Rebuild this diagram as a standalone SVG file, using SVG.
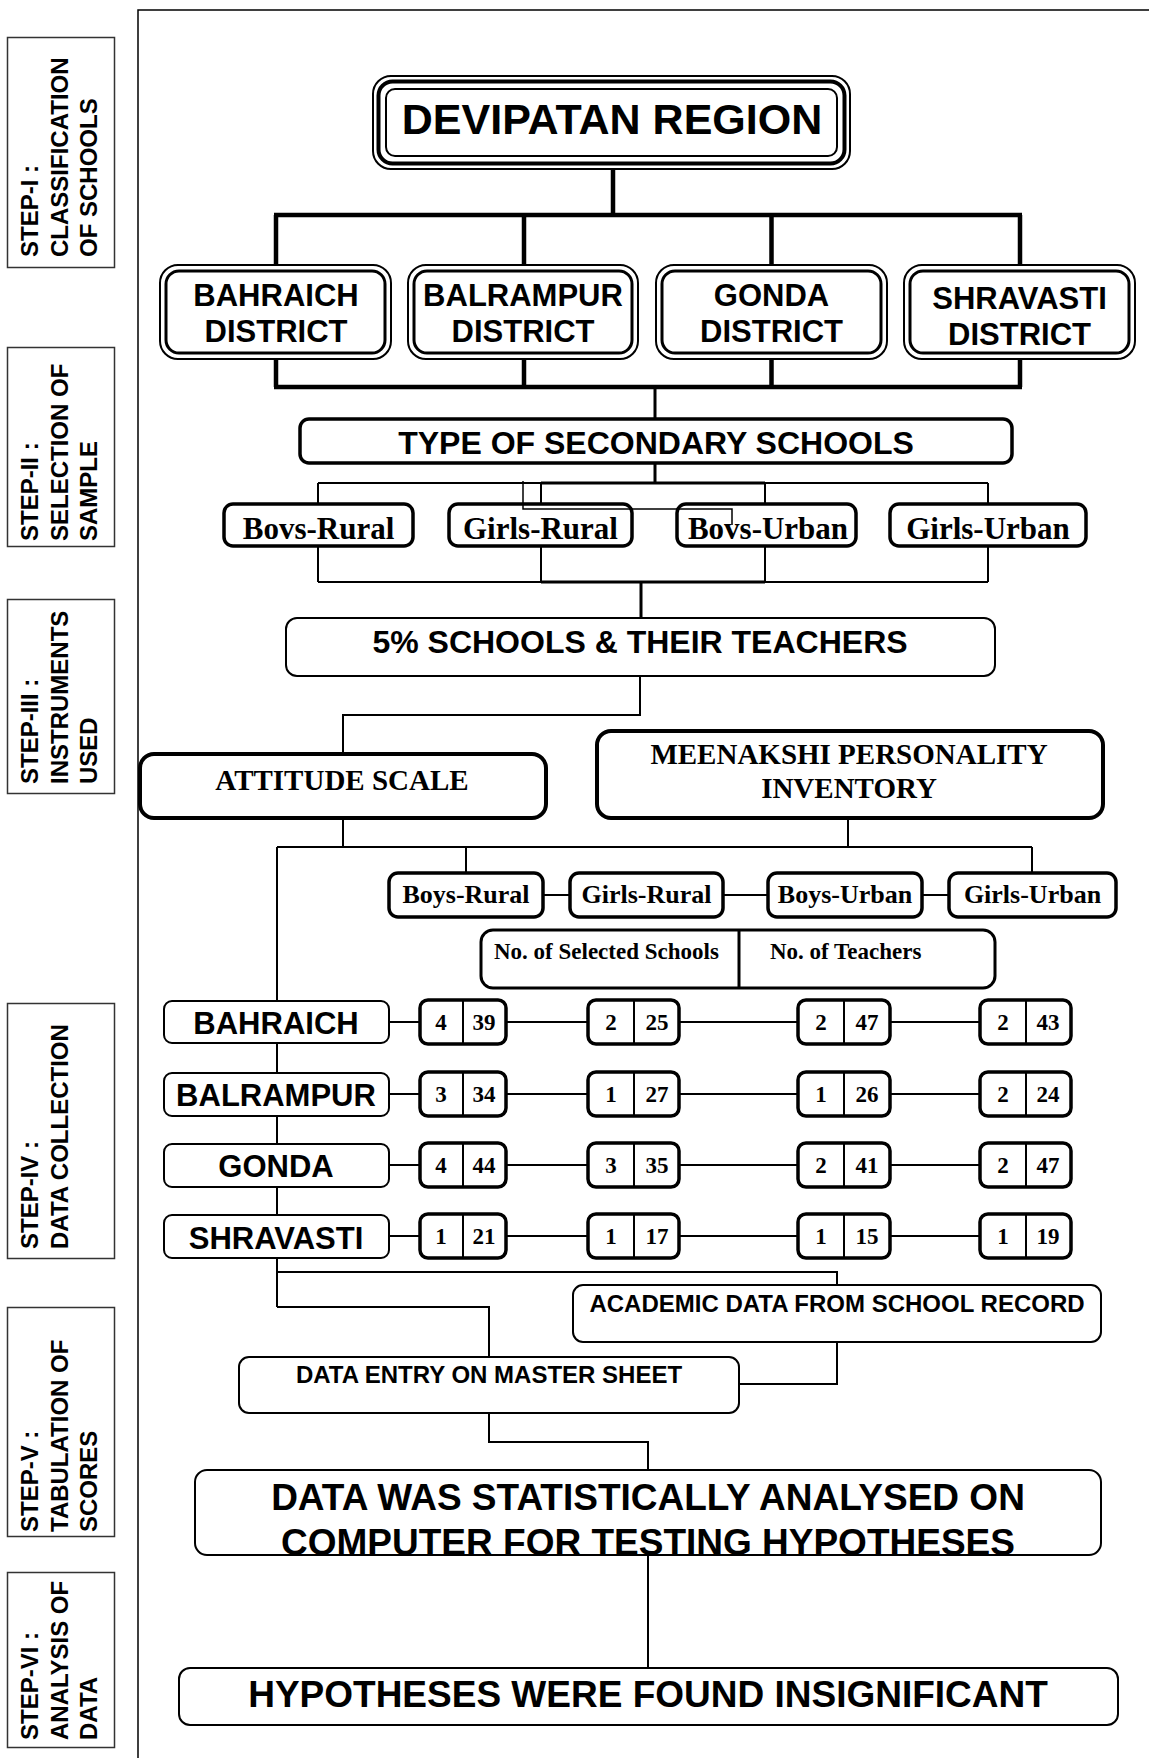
<svg xmlns="http://www.w3.org/2000/svg" width="1149" height="1758" viewBox="0 0 1149 1758">
<style>
.bg{fill:#fff}
.sb{fill:#fff;stroke:#333;stroke-width:1.5}
.st{font-family:"Liberation Sans",Arial,sans-serif;font-weight:bold;font-size:24px;fill:#000}
.sans{font-family:"Liberation Sans",Arial,sans-serif;font-weight:bold;fill:#000;text-anchor:middle}
.serif{font-family:"Liberation Serif","Times New Roman",serif;font-weight:bold;fill:#000;text-anchor:middle}
.b1{fill:#fff;stroke:#000;stroke-width:2}
.b3{fill:#fff;stroke:#000;stroke-width:3.5}
.ln{fill:none;stroke:#000;stroke-width:2}
.lt{fill:none;stroke:#000;stroke-width:1.5}
.lk{fill:none;stroke:#000;stroke-width:4.5}
.lm{fill:none;stroke:#000;stroke-width:3}
.num{font-family:"Liberation Serif","Times New Roman",serif;font-weight:bold;font-size:23px;fill:#000;text-anchor:middle}
</style>
<defs>
<clipPath id="anClip"><rect x="195" y="1470" width="906" height="85"/></clipPath>
</defs>
<rect class="bg" x="0" y="0" width="1149" height="1758"/>
<path class="lt" d="M1149,10 H138 V1758"/>

<g id="steps">
<g id="step1"><rect class="sb" x="7.5" y="37.5" width="107" height="230"/>
<text class="st" transform="translate(38,257) rotate(-90)">STEP-I :</text>
<text class="st" transform="translate(68,257) rotate(-90)">CLASSIFICATION</text>
<text class="st" transform="translate(97,257) rotate(-90)">OF SCHOOLS</text></g>
<g id="step2"><rect class="sb" x="7.5" y="347.5" width="107" height="199"/>
<text class="st" transform="translate(38,541) rotate(-90)">STEP-II :</text>
<text class="st" transform="translate(68,541) rotate(-90)">SELECTION OF</text>
<text class="st" transform="translate(97,541) rotate(-90)">SAMPLE</text></g>
<g id="step3"><rect class="sb" x="7.5" y="599.5" width="107" height="194"/>
<text class="st" transform="translate(38,784) rotate(-90)">STEP-III :</text>
<text class="st" transform="translate(68,784) rotate(-90)">INSTRUMENTS</text>
<text class="st" transform="translate(97,784) rotate(-90)">USED</text></g>
<g id="step4"><rect class="sb" x="7.5" y="1003.5" width="107" height="255"/>
<text class="st" transform="translate(38,1249) rotate(-90)">STEP-IV :</text>
<text class="st" transform="translate(68,1249) rotate(-90)">DATA COLLECTION</text></g>
<g id="step5"><rect class="sb" x="7.5" y="1307.5" width="107" height="229"/>
<text class="st" transform="translate(38,1532) rotate(-90)">STEP-V :</text>
<text class="st" transform="translate(68,1532) rotate(-90)">TABULATION OF</text>
<text class="st" transform="translate(97,1532) rotate(-90)">SCORES</text></g>
<g id="step6"><rect class="sb" x="7.5" y="1572.5" width="107" height="175"/>
<text class="st" transform="translate(38,1740) rotate(-90)">STEP-VI :</text>
<text class="st" transform="translate(68,1740) rotate(-90)">ANALYSIS OF</text>
<text class="st" transform="translate(97,1740) rotate(-90)">DATA</text></g>
</g>

<g id="connectors">
<path class="lk" d="M613,169 V215 M274,215 H1022 M276,215 V265 M524,215 V265 M771.5,215 V265 M1020,215 V265"/>
<path class="lk" d="M276,359 V387 M524,359 V387 M771.5,359 V387 M1020,359 V387 M274,387 H1022"/>
<path class="lm" d="M655,387 V419 M655,463 V483"/>
<path class="ln" d="M318,483 H988 M318,483 V504 M541,483 V504 M765,483 V504 M988,483 V504"/>
<path class="lm" d="M541,483 H765"/>
<path class="ln" d="M318,546 V582 M541,546 V582 M765,546 V582 M988,546 V582 M318,582 H988"/>
<path class="lm" d="M541,582 H765 M641,582 V618"/>
<path class="ln" d="M640,676 V715 H343 V754"/>
<path class="ln" d="M343,818 V847 M848,818 V847 M277,847 H1032 M466,847 V873 M1032,847 V873 M277,847 V1307"/>
<path class="ln" d="M543,895 H570 M723,895 H768 M922,895 H949"/>
<path class="ln" d="M389,1022 H420 M506,1022 H588 M679,1022 H798 M890,1022 H980"/>
<path class="ln" d="M389,1094 H420 M506,1094 H588 M679,1094 H798 M890,1094 H980"/>
<path class="ln" d="M389,1165 H420 M506,1165 H588 M679,1165 H798 M890,1165 H980"/>
<path class="ln" d="M389,1236 H420 M506,1236 H588 M679,1236 H798 M890,1236 H980"/>
<path class="ln" d="M277,1272 H837 V1285 M277,1307 H489 V1357"/>
<path class="ln" d="M837,1342 V1384 H739 M489,1413 V1442 H648 V1470 M648,1555 V1668"/>
</g>

<g id="devipatan">
<rect fill="#fff" stroke="#000" stroke-width="2" x="373" y="76" width="477" height="93" rx="18"/>
<rect fill="none" stroke="#000" stroke-width="4" x="378.5" y="81.5" width="466" height="82" rx="14"/>
<rect fill="none" stroke="#000" stroke-width="2" x="386" y="89" width="451" height="67" rx="9"/>
<text class="sans" x="612" y="134" font-size="43">DEVIPATAN REGION</text>
</g>

<g id="bahraich-district">
<rect fill="#fff" stroke="#000" stroke-width="2" x="160" y="265" width="231" height="94" rx="18"/>
<rect fill="none" stroke="#000" stroke-width="3" x="166" y="271" width="219" height="82" rx="13"/>
<text class="sans" x="276" y="306" font-size="31">BAHRAICH</text>
<text class="sans" x="276" y="342" font-size="31">DISTRICT</text>
</g>
<g id="balrampur-district">
<rect fill="#fff" stroke="#000" stroke-width="2" x="408" y="265" width="230" height="94" rx="18"/>
<rect fill="none" stroke="#000" stroke-width="3" x="414" y="271" width="218" height="82" rx="13"/>
<text class="sans" x="523" y="306" font-size="31">BALRAMPUR</text>
<text class="sans" x="523" y="342" font-size="31">DISTRICT</text>
</g>
<g id="gonda-district">
<rect fill="#fff" stroke="#000" stroke-width="2" x="656" y="265" width="231" height="94" rx="18"/>
<rect fill="none" stroke="#000" stroke-width="3" x="662" y="271" width="219" height="82" rx="13"/>
<text class="sans" x="771.5" y="306" font-size="31">GONDA</text>
<text class="sans" x="771.5" y="342" font-size="31">DISTRICT</text>
</g>
<g id="shravasti-district">
<rect fill="#fff" stroke="#000" stroke-width="2" x="904" y="265" width="231" height="94" rx="18"/>
<rect fill="none" stroke="#000" stroke-width="3" x="910" y="271" width="219" height="82" rx="13"/>
<text class="sans" x="1019.5" y="309" font-size="31">SHRAVASTI</text>
<text class="sans" x="1019.5" y="345" font-size="31">DISTRICT</text>
</g>

<g id="type-schools">
<rect class="b3" x="300" y="419" width="712" height="44" rx="9"/>
<text class="sans" x="656" y="454" font-size="32">TYPE OF SECONDARY SCHOOLS</text>
</g>
<g id="t-bovs-rural"><rect class="b3" x="224" y="504" width="189" height="42" rx="9"/><text class="serif" x="318.5" y="539" font-size="31">Bovs-Rural</text></g>
<g id="t-girls-rural"><rect class="b3" x="449" y="504" width="183" height="42" rx="9"/><text class="serif" x="540.5" y="539" font-size="31">Girls-Rural</text></g>
<g id="t-bovs-urban"><rect class="b3" x="677" y="504" width="179" height="42" rx="9"/><text class="serif" x="768" y="539" font-size="31">Bovs-Urban</text></g>
<g id="t-girls-urban"><rect class="b3" x="890" y="504" width="196" height="42" rx="9"/><text class="serif" x="988" y="539" font-size="31">Girls-Urban</text></g>
<path class="lt" d="M523,481 V509 H732 V525"/>

<g id="five-percent">
<rect class="b1" x="286" y="618" width="709" height="58" rx="11"/>
<text class="sans" x="640" y="653" font-size="32">5% SCHOOLS &amp; THEIR TEACHERS</text>
</g>
<g id="attitude">
<rect fill="#fff" stroke="#000" stroke-width="4" x="140" y="754" width="406" height="64" rx="14"/>
<text class="serif" x="342" y="790" font-size="29">ATTITUDE SCALE</text>
</g>
<g id="meenakshi">
<rect fill="#fff" stroke="#000" stroke-width="4" x="597" y="731" width="506" height="87" rx="14"/>
<text class="serif" x="849" y="764" font-size="29">MEENAKSHI PERSONALITY</text>
<text class="serif" x="849" y="798" font-size="29">INVENTORY</text>
</g>

<g id="r-boys-rural"><rect class="b3" x="389" y="873" width="154" height="44" rx="9"/><text class="serif" x="466" y="903" font-size="26">Boys-Rural</text></g>
<g id="r-girls-rural"><rect class="b3" x="570" y="873" width="153" height="44" rx="9"/><text class="serif" x="646.5" y="903" font-size="26">Girls-Rural</text></g>
<g id="r-boys-urban"><rect class="b3" x="768" y="873" width="154" height="44" rx="9"/><text class="serif" x="845" y="903" font-size="26">Boys-Urban</text></g>
<g id="r-girls-urban"><rect class="b3" x="949" y="873" width="167" height="44" rx="9"/><text class="serif" x="1032.5" y="903" font-size="26">Girls-Urban</text></g>

<g id="legend">
<rect fill="#fff" stroke="#000" stroke-width="3" x="481" y="930" width="514" height="58" rx="12"/>
<path class="lm" d="M739,930 V988"/>
<text class="serif" x="494" y="959" font-size="23" style="text-anchor:start">No. of Selected Schools</text>
<text class="serif" x="770" y="959" font-size="23" style="text-anchor:start">No. of Teachers</text>
</g>

<g id="d-bahraich"><rect class="b1" x="164" y="1001" width="225" height="42" rx="8"/><text class="sans" x="276" y="1034" font-size="31">BAHRAICH</text></g>
<g id="d-balrampur"><rect class="b1" x="164" y="1073" width="225" height="43" rx="8"/><text class="sans" x="276" y="1106" font-size="31">BALRAMPUR</text></g>
<g id="d-gonda"><rect class="b1" x="164" y="1144" width="225" height="43" rx="8"/><text class="sans" x="276" y="1177" font-size="31">GONDA</text></g>
<g id="d-shravasti"><rect class="b1" x="164" y="1215" width="225" height="43" rx="8"/><text class="sans" x="276" y="1249" font-size="31">SHRAVASTI</text></g>

<g id="nums-bahraich">
<g><rect class="b3" x="420" y="1000" width="86" height="44" rx="8"/><path class="ln" d="M463,1000 V1044"/><text class="num" x="441" y="1030">4</text><text class="num" x="484" y="1030">39</text></g>
<g><rect class="b3" x="588" y="1000" width="91" height="44" rx="8"/><path class="ln" d="M634,1000 V1044"/><text class="num" x="611" y="1030">2</text><text class="num" x="657" y="1030">25</text></g>
<g><rect class="b3" x="798" y="1000" width="92" height="44" rx="8"/><path class="ln" d="M844,1000 V1044"/><text class="num" x="821" y="1030">2</text><text class="num" x="867" y="1030">47</text></g>
<g><rect class="b3" x="980" y="1000" width="91" height="44" rx="8"/><path class="ln" d="M1026,1000 V1044"/><text class="num" x="1003" y="1030">2</text><text class="num" x="1048" y="1030">43</text></g>
</g>
<g id="nums-balrampur">
<g><rect class="b3" x="420" y="1072" width="86" height="44" rx="8"/><path class="ln" d="M463,1072 V1116"/><text class="num" x="441" y="1102">3</text><text class="num" x="484" y="1102">34</text></g>
<g><rect class="b3" x="588" y="1072" width="91" height="44" rx="8"/><path class="ln" d="M634,1072 V1116"/><text class="num" x="611" y="1102">1</text><text class="num" x="657" y="1102">27</text></g>
<g><rect class="b3" x="798" y="1072" width="92" height="44" rx="8"/><path class="ln" d="M844,1072 V1116"/><text class="num" x="821" y="1102">1</text><text class="num" x="867" y="1102">26</text></g>
<g><rect class="b3" x="980" y="1072" width="91" height="44" rx="8"/><path class="ln" d="M1026,1072 V1116"/><text class="num" x="1003" y="1102">2</text><text class="num" x="1048" y="1102">24</text></g>
</g>
<g id="nums-gonda">
<g><rect class="b3" x="420" y="1143" width="86" height="44" rx="8"/><path class="ln" d="M463,1143 V1187"/><text class="num" x="441" y="1173">4</text><text class="num" x="484" y="1173">44</text></g>
<g><rect class="b3" x="588" y="1143" width="91" height="44" rx="8"/><path class="ln" d="M634,1143 V1187"/><text class="num" x="611" y="1173">3</text><text class="num" x="657" y="1173">35</text></g>
<g><rect class="b3" x="798" y="1143" width="92" height="44" rx="8"/><path class="ln" d="M844,1143 V1187"/><text class="num" x="821" y="1173">2</text><text class="num" x="867" y="1173">41</text></g>
<g><rect class="b3" x="980" y="1143" width="91" height="44" rx="8"/><path class="ln" d="M1026,1143 V1187"/><text class="num" x="1003" y="1173">2</text><text class="num" x="1048" y="1173">47</text></g>
</g>
<g id="nums-shravasti">
<g><rect class="b3" x="420" y="1214" width="86" height="44" rx="8"/><path class="ln" d="M463,1214 V1258"/><text class="num" x="441" y="1244">1</text><text class="num" x="484" y="1244">21</text></g>
<g><rect class="b3" x="588" y="1214" width="91" height="44" rx="8"/><path class="ln" d="M634,1214 V1258"/><text class="num" x="611" y="1244">1</text><text class="num" x="657" y="1244">17</text></g>
<g><rect class="b3" x="798" y="1214" width="92" height="44" rx="8"/><path class="ln" d="M844,1214 V1258"/><text class="num" x="821" y="1244">1</text><text class="num" x="867" y="1244">15</text></g>
<g><rect class="b3" x="980" y="1214" width="91" height="44" rx="8"/><path class="ln" d="M1026,1214 V1258"/><text class="num" x="1003" y="1244">1</text><text class="num" x="1048" y="1244">19</text></g>
</g>

<g id="academic">
<rect class="b1" x="573" y="1285" width="528" height="57" rx="10"/>
<text class="sans" x="837" y="1312" font-size="24">ACADEMIC DATA FROM SCHOOL RECORD</text>
</g>
<g id="data-entry">
<rect class="b1" x="239" y="1357" width="500" height="56" rx="10"/>
<text class="sans" x="489" y="1383" font-size="24">DATA ENTRY ON MASTER SHEET</text>
</g>
<g id="analysed">
<rect fill="#fff" x="195" y="1470" width="906" height="85" rx="12"/>
<g clip-path="url(#anClip)">
<text class="sans" x="648" y="1510" font-size="37">DATA WAS STATISTICALLY ANALYSED ON</text>
<text class="sans" x="648" y="1555" font-size="37">COMPUTER FOR TESTING HYPOTHESES</text>
</g>
<rect fill="none" stroke="#000" stroke-width="2" x="195" y="1470" width="906" height="85" rx="12"/>
</g>
<g id="insignificant">
<rect class="b1" x="179" y="1668" width="939" height="57" rx="11"/>
<text class="sans" x="648" y="1707" font-size="37">HYPOTHESES WERE FOUND INSIGNIFICANT</text>
</g>
</svg>
